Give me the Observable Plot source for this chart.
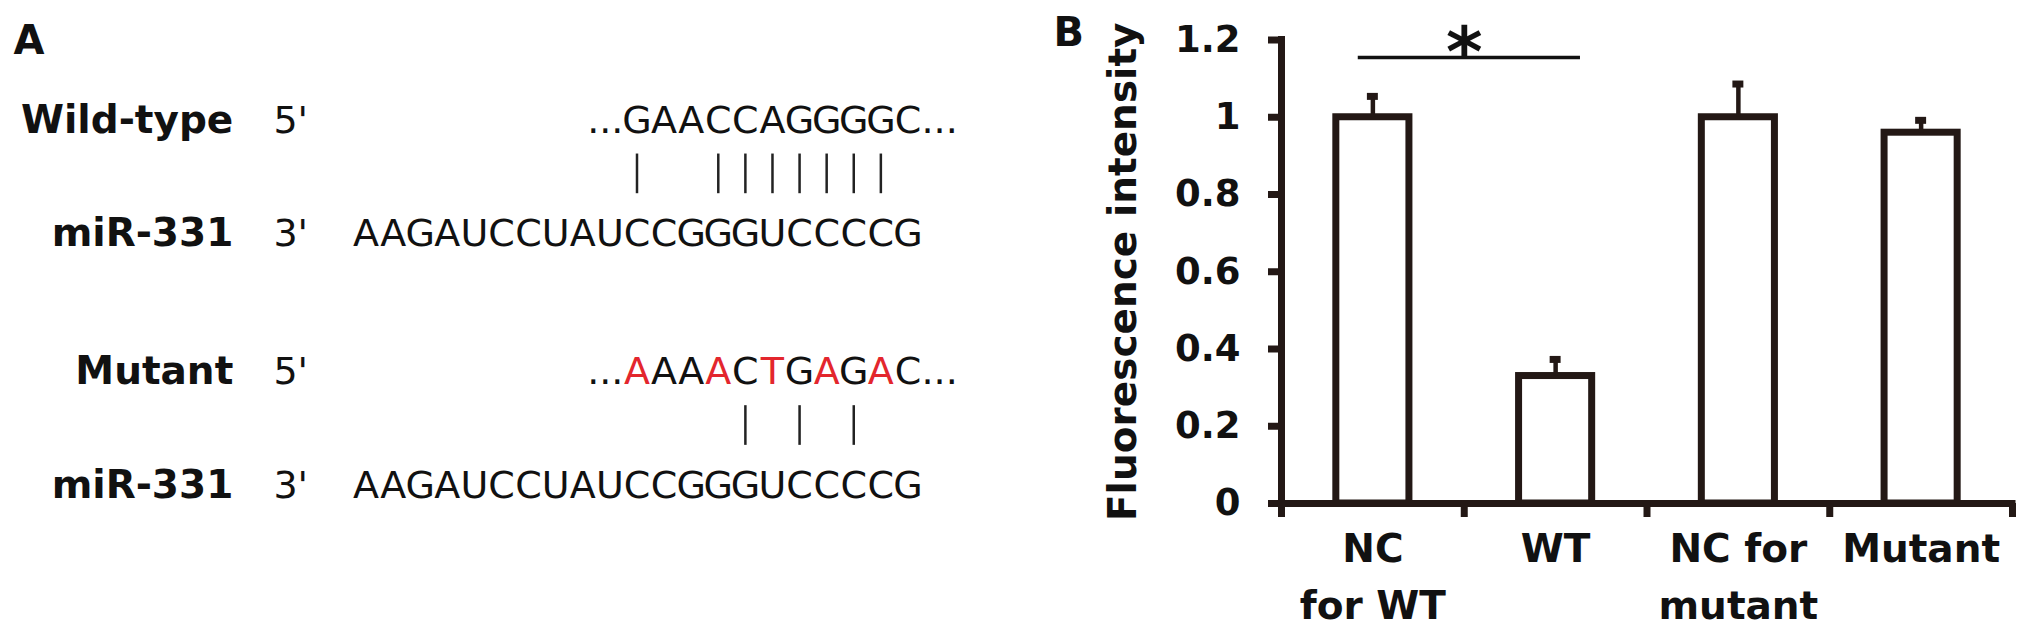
<!DOCTYPE html>
<html><head><meta charset="utf-8">
<script src="https://cdn.jsdelivr.net/npm/d3@7"></script>
<script src="https://cdn.jsdelivr.net/npm/@observablehq/plot@0.6"></script>
<style>
body{margin:0;background:#fff;}
#fig{position:relative;width:2031px;height:627px;background:#fff;overflow:hidden;}
#panelA{position:absolute;left:0;top:0;width:1000px;height:627px;}
#panelB{position:absolute;left:1040px;top:0;width:991px;height:627px;}
#fig svg{max-width:none;display:block;}
</style></head><body>
<div id="fig"><div id="panelA"></div><div id="panelB"></div></div>
<script>
// ---------- Panel A data ----------
const wildTypeTarget = "GAACCAGGGGC";
const mutantTarget = "AAAACTGAGAC";
const mirSeq = "AAGAUCCUAUCCGGGUCCCCG";
const targetOffset = 10;               // index in miR string where target strand starts
const wildTypePairs = [10, 13, 14, 15, 16, 17, 18, 19];
const mutantPairs = [14, 16, 18];
const groupLabels = ["Wild-type", "Mutant"];
const mirLabel = "miR-331";
const endLabels = ["5'", "3'"];
const panelLabels = ["A", "B"];

// ---------- Panel B data ----------
const categories = ["NC\nfor WT", "WT", "NC for\nmutant", "Mutant"];
const means = [1.0, 0.33, 1.0, 0.96];
const errors = [0.054, 0.043, 0.086, 0.032];
const yTicks = [0, 0.2, 0.4, 0.6, 0.8, 1, 1.2];
const yTickLabels = ["0", "0.2", "0.4", "0.6", "0.8", "1", "1.2"];
const yTitle = "Fluorescence intensity";
const sigPair = [0, 1];
const sigLevel = 1.155;
const sigMark = "*";

// ---------- styles ----------
const ink = "#111111";
const barInk = "#231815";
const red = "#e3262d";
const font = "DejaVu Sans";

// ---------- Panel A ----------
const groupStep = 2.22;
const rowY = (g, s) => g * groupStep + s;
const targets = [wildTypeTarget, mutantTarget];
const letters = [];
targets.forEach((seq, g) => {
  [...seq].forEach((ch, k) => letters.push({
    row: rowY(g, 0), pos: targetOffset + k + 0.5, ch,
    color: (g === 1 && ch !== wildTypeTarget[k]) ? red : ink
  }));
  [...mirSeq].forEach((ch, k) => letters.push({row: rowY(g, 1), pos: k + 0.5, ch, color: ink}));
});
const pairs = [wildTypePairs, mutantPairs].flatMap((arr, g) =>
  arr.map(p => ({pos: p + 0.5, y1: rowY(g, 0) + 0.19, y2: rowY(g, 0) + 0.54})));
const leadDots = targets.map((s, g) => ({pos: targetOffset, row: rowY(g, 0)}));
const tailDots = targets.map((s, g) => ({pos: targetOffset + s.length, row: rowY(g, 0)}));
const leftLabels = groupLabels.flatMap((lab, g) => [
  {text: lab, row: rowY(g, 0)}, {text: mirLabel, row: rowY(g, 1)}]);
const ends = groupLabels.flatMap((lab, g) => [
  {text: endLabels[0], row: rowY(g, 0)}, {text: endLabels[1], row: rowY(g, 1)}]);

const plotA = Plot.plot({
  width: 1000, height: 627,
  marginLeft: 352, marginRight: 79, marginTop: 132, marginBottom: 130,
  x: {domain: [0, mirSeq.length], axis: null},
  y: {domain: [0, groupStep + 1], reverse: true, axis: null},
  color: {type: "identity"},
  style: {fontFamily: font, background: "white", color: ink, overflow: "visible"},
  marks: [
    Plot.text(letters, {x: "pos", y: "row", text: "ch", fill: "color", fontSize: 38,
      lineAnchor: "bottom", textAnchor: "middle"}),
    Plot.text(leadDots, {x: "pos", y: "row", text: () => "...", fontSize: 38,
      lineAnchor: "bottom", textAnchor: "end", fill: ink}),
    Plot.text(tailDots, {x: "pos", y: "row", text: () => "...", fontSize: 38,
      lineAnchor: "bottom", textAnchor: "start", fill: ink}),
    Plot.ruleX(pairs, {x: "pos", y1: "y1", y2: "y2", stroke: "#222", strokeWidth: 2.5}),
    Plot.text(leftLabels, {x: () => -4.4, y: "row", text: "text", fontSize: 39, fontWeight: "bold",
      lineAnchor: "bottom", textAnchor: "end", fill: ink}),
    Plot.text(ends, {x: () => -2.92, y: "row", text: "text", fontSize: 38,
      lineAnchor: "bottom", textAnchor: "start", fill: ink}),
    Plot.text([panelLabels[0]], {frameAnchor: "top-left", text: d => d, dx: -339, dy: -79,
      lineAnchor: "bottom", textAnchor: "start", fontSize: 40, fontWeight: "bold", fill: ink})
  ]
});
document.getElementById("panelA").append(plotA);

// ---------- Panel B ----------
const barData = categories.map((c, i) => ({i, c, value: means[i], err: errors[i]}));
const half = 0.2;

const plotB = Plot.plot({
  width: 991, height: 627,
  marginLeft: 241, marginRight: 19, marginTop: 39.5, marginBottom: 124,
  x: {domain: [0, categories.length]},
  y: {domain: [0, 1.2]},
  style: {fontFamily: font, background: "white", color: ink, overflow: "visible"},
  marks: [
    Plot.rect(barData, {x1: d => d.i + 0.5 - half, x2: d => d.i + 0.5 + half, y1: 0, y2: "value",
      fill: "white", stroke: barInk, strokeWidth: 7, strokeLinejoin: "miter"}),
    Plot.ruleX(barData, {x: d => d.i + 0.5, y1: "value", y2: d => d.value + d.err,
      stroke: barInk, strokeWidth: 4.5}),
    Plot.ruleY(barData, {y: d => d.value + d.err, x1: d => d.i + 0.47, x2: d => d.i + 0.53,
      stroke: barInk, strokeWidth: 7}),
    Plot.axisY({ticks: yTicks, tickFormat: d => yTickLabels[yTicks.indexOf(d)], tickSize: 13,
      tickPadding: 28, fontSize: 37, fontWeight: "bold", stroke: barInk, strokeWidth: 7,
      label: null, fill: ink}),
    Plot.ruleX([0], {y1: 0, y2: 1.2, stroke: barInk, strokeWidth: 7, strokeLinecap: "square"}),
    Plot.ruleY([0], {x1: 0, x2: categories.length, stroke: barInk, strokeWidth: 7, strokeLinecap: "square"}),
    Plot.axisX({ticks: d3.range(categories.length + 1), tickFormat: () => "", tickSize: 14,
      stroke: barInk, strokeWidth: 7, label: null}),
    Plot.axisX({ticks: categories.map((c, i) => i + 0.5), tickSize: 0, tickPadding: 19,
      tickFormat: d => categories[Math.floor(d)], fontSize: 39, fontWeight: "bold",
      lineHeight: 1.44, label: null, fill: ink}),
    Plot.ruleY([sigLevel], {x1: sigPair[0] + 0.42, x2: sigPair[1] + 0.636, stroke: ink, strokeWidth: 3.5}),
    Plot.text([sigMark], {x: () => (sigPair[0] + sigPair[1]) / 2 + 0.5, y: () => sigLevel, text: d => d,
      fontSize: 70, fontWeight: "bold", lineAnchor: "bottom", dy: 19, fill: ink}),
    Plot.text([yTitle], {frameAnchor: "left", textAnchor: "middle", rotate: -90, dx: -158,
      text: d => d, fontSize: 39, fontWeight: "bold", fill: ink}),
    Plot.text([panelLabels[1]], {frameAnchor: "top-left", text: d => d, dx: -228, dy: 5.5,
      lineAnchor: "bottom", textAnchor: "start", fontSize: 40, fontWeight: "bold", fill: ink})
  ]
});
document.getElementById("panelB").append(plotB);
</script>
</body></html>
